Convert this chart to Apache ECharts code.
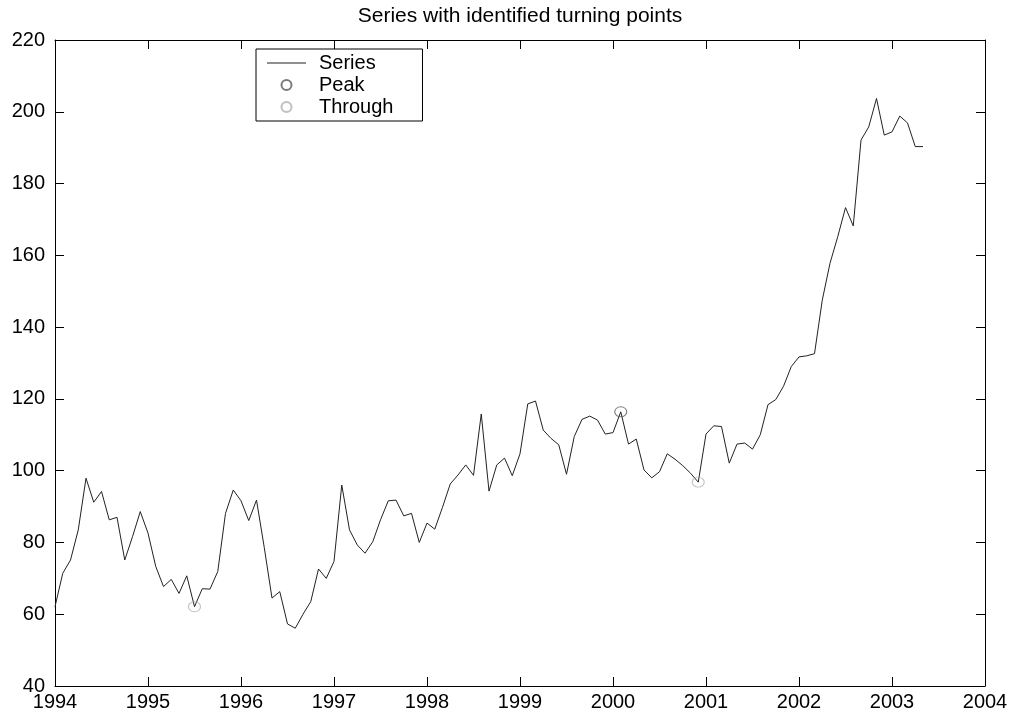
<!DOCTYPE html>
<html>
<head>
<meta charset="utf-8">
<title>Series with identified turning points</title>
<script src="https://cdn.jsdelivr.net/npm/echarts@6/dist/echarts.min.js"></script>
<style>
  html, body { margin: 0; padding: 0; background: #fff; }
  #chart { width: 1017px; height: 715px; }
</style>
</head>
<body>
<div id="chart"></div>
<script>
// Monthly series, January 1994 to May 2003
const startYear = 1994;
const seriesValues = [
  62.1, 71.4, 75.1, 83.5, 97.9, 91.2, 94.2, 86.3, 87.0, 75.1, 81.6, 88.6,
  82.6, 73.3, 67.7, 69.7, 65.8, 70.7, 62.1, 67.1, 67.0, 71.9, 88.1, 94.6,
  91.6, 86.1, 91.8, 78.6, 64.5, 66.3, 57.3, 56.1, 60.0, 63.5, 72.6, 70.0,
  74.7, 96.0, 83.5, 79.3, 77.0, 80.2, 86.3, 91.6, 91.8, 87.4, 88.1, 80.0,
  85.4, 83.7, 89.8, 96.3, 98.8, 101.6, 98.7, 115.8, 94.3, 101.6, 103.5, 98.6,
  104.7, 118.6, 119.4, 111.3, 109.0, 107.2, 99.0, 109.5, 114.3, 115.2, 114.1, 110.2,
  110.6, 116.4, 107.4, 108.8, 100.2, 98.0, 99.7, 104.7, 103.2, 101.4, 99.3, 96.8,
  110.2, 112.5, 112.3, 102.1, 107.4, 107.7, 106.0, 110.0, 118.4, 119.8, 123.5, 129.0,
  131.7, 132.0, 132.6, 147.5, 157.8, 165.2, 173.3, 168.2, 192.1, 195.8, 203.7, 193.5,
  194.4, 198.8, 196.9, 190.3, 190.3
];
// Indices (months from start) of detected turning points
const peakIndices = [73];
const troughIndices = [18, 83];

// Axis ranges and tick steps
const xRange = [1994, 2004];
const xStep = 1;
const yRange = [40, 220];
const yStep = 20;

const toTime = i => startYear + i / 12;
const lineData = seriesValues.map((v, i) => [toTime(i), v]);
const peakData = peakIndices.map(i => [toTime(i), seriesValues[i]]);
const troughData = troughIndices.map(i => [toTime(i), seriesValues[i]]);

const FONT = "'Liberation Sans', Arial, sans-serif";
const axisLineStyle = { lineStyle: { color: '#000', width: 1 } };
const tickStyle = { show: true, inside: true, length: 9, lineStyle: { color: '#000', width: 1 } };

const chart = echarts.init(document.getElementById('chart'), null, { renderer: 'canvas' });
chart.setOption({
  animation: false,
  backgroundColor: '#fff',
  textStyle: { fontFamily: FONT },
  title: {
    text: 'Series with identified turning points',
    left: 520,
    textAlign: 'center',
    top: 6,
    padding: 0,
    textStyle: { fontFamily: FONT, fontSize: 21, fontWeight: 'normal', color: '#000' }
  },
  grid: { left: 55, right: 32, top: 40, bottom: 29, containLabel: false },
  legend: {
    data: [
      // plain thin line sample for the series entry
      { name: 'Series', icon: 'path://M0,0H40V1H0Z' },
      'Peak',
      'Through'
    ],
    orient: 'vertical',
    left: 256,
    top: 49,
    itemWidth: 39,
    itemHeight: 10,
    itemGap: 2,
    padding: [4, 29, 4, 11],
    borderColor: '#000',
    borderWidth: 1,
    borderRadius: 0,
    backgroundColor: '#fff',
    selectedMode: false,
    textStyle: { fontFamily: FONT, fontSize: 20, color: '#000', padding: [0, 0, 0, 8] }
  },
  xAxis: [
    {
      type: 'value', min: xRange[0], max: xRange[1], interval: xStep,
      position: 'bottom',
      axisLine: axisLineStyle, axisTick: tickStyle,
      splitLine: { show: false },
      axisLabel: { fontFamily: FONT, fontSize: 20, color: '#000', margin: 6, formatter: v => String(v) }
    },
    {
      type: 'value', min: xRange[0], max: xRange[1], interval: xStep,
      position: 'top',
      axisLine: axisLineStyle, axisTick: tickStyle,
      splitLine: { show: false }, axisLabel: { show: false }
    }
  ],
  yAxis: [
    {
      type: 'value', min: yRange[0], max: yRange[1], interval: yStep,
      position: 'left',
      axisLine: { show: true, ...axisLineStyle }, axisTick: tickStyle,
      splitLine: { show: false },
      axisLabel: { fontFamily: FONT, fontSize: 20, color: '#000', margin: 10 }
    },
    {
      type: 'value', min: yRange[0], max: yRange[1], interval: yStep,
      position: 'right',
      axisLine: { show: true, ...axisLineStyle }, axisTick: tickStyle,
      splitLine: { show: false }, axisLabel: { show: false }
    }
  ],
  series: [
    {
      name: 'Series',
      type: 'line',
      data: lineData,
      symbol: 'none',
      showSymbol: false,
      lineStyle: { color: '#222', width: 1 },
      itemStyle: { color: '#222' },
      z: 2
    },
    {
      name: 'Peak',
      type: 'scatter',
      data: peakData,
      symbol: 'circle',
      symbolSize: [12, 10],
      itemStyle: { color: 'rgba(255,255,255,0)', borderColor: '#5a5a5a', borderWidth: 1 },
      z: 3
    },
    {
      name: 'Through',
      type: 'scatter',
      data: troughData,
      symbol: 'circle',
      symbolSize: [12, 10],
      itemStyle: { color: 'rgba(255,255,255,0)', borderColor: '#b0b0b0', borderWidth: 1 },
      z: 3
    }
  ]
});
</script>
</body>
</html>
